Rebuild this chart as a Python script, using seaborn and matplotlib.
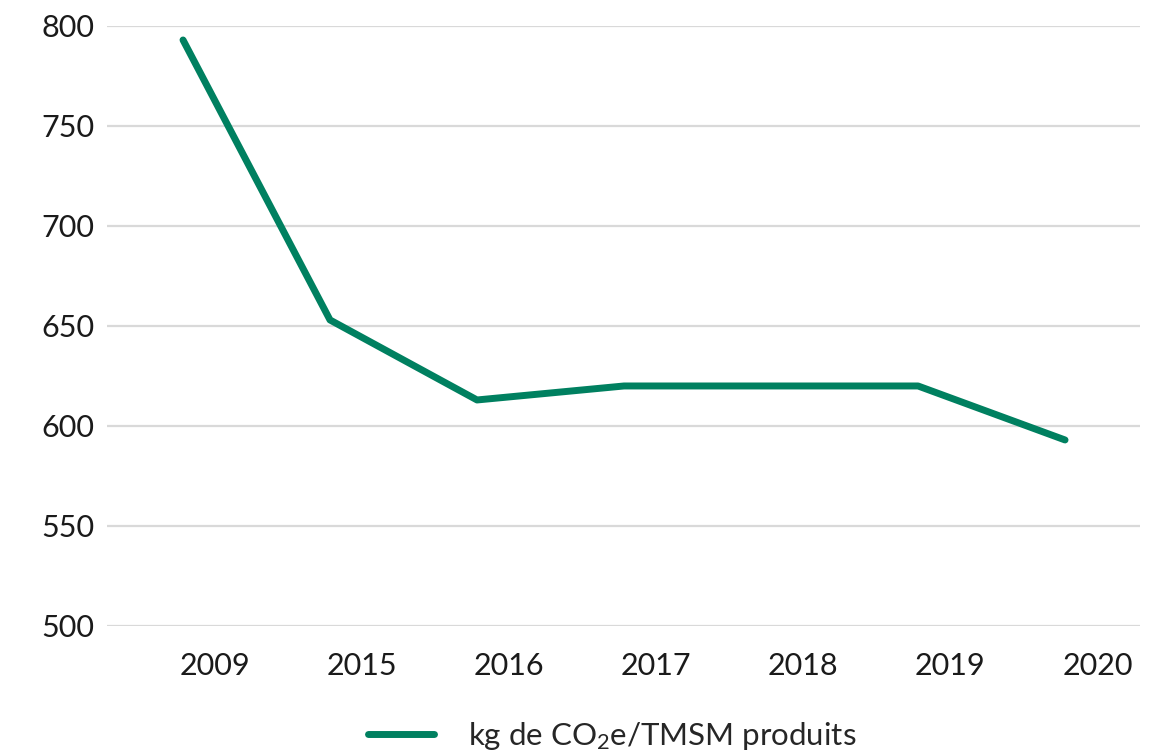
import matplotlib

matplotlib.use("Agg")
import matplotlib.pyplot as plt
import numpy as np
import pandas as pd
import seaborn as sns

years = ["2009", "2015", "2016", "2017", "2018", "2019", "2020"]
emissions = [793, 653, 613, 620, 620, 620, 593]
series_label = "kg de CO$_2$e/TMSM produits"
y_ticks = [500, 550, 600, 650, 700, 750, 800]

GREEN = "#008060"
GRID = "#D9D9D9"

sns.set_theme(style="white")
plt.rcParams["font.family"] = ["Lato", "DejaVu Sans"]
plt.rcParams["mathtext.fontset"] = "custom"
plt.rcParams["mathtext.rm"] = "Lato"
plt.rcParams["mathtext.it"] = "Lato:italic"

df = pd.DataFrame({"year": years, "value": emissions})

fig = plt.figure(figsize=(11.76, 7.53), dpi=100)
ax = fig.add_axes([0.091, 0.1687, 0.8784, 0.7968])

sns.lineplot(
    data=df,
    x="year",
    y="value",
    color=GREEN,
    linewidth=5,
    solid_capstyle="round",
    label=series_label,
    ax=ax,
    legend=False,
)

ax.set_ylim(500, 800)
ax.set_yticks(y_ticks)
ax.set_xlim(-0.517, 6.51)
# category labels sit a little to the right of the data points
ax.set_xticks(np.arange(len(years)) + 0.22, years)
ax.yaxis.grid(True, color=GRID, linewidth=1.6)
ax.set_axisbelow(True)
for s in ax.spines.values():
    s.set_visible(False)
ax.tick_params(axis="y", length=0, pad=9, labelsize=22, labelcolor="#1a1a1a")
ax.tick_params(axis="x", length=0, pad=19, labelsize=22, labelcolor="#1a1a1a")
ax.set_xlabel("")
ax.set_ylabel("")

handles, labels = ax.get_legend_handles_labels()
fig.legend(
    handles,
    labels,
    loc="lower center",
    bbox_to_anchor=(0.521, -0.036),
    frameon=False,
    fontsize=22.5,
    handlelength=2.1,
    handletextpad=1.1,
)

fig.savefig("out.png", dpi=100)
plt.close(fig)
